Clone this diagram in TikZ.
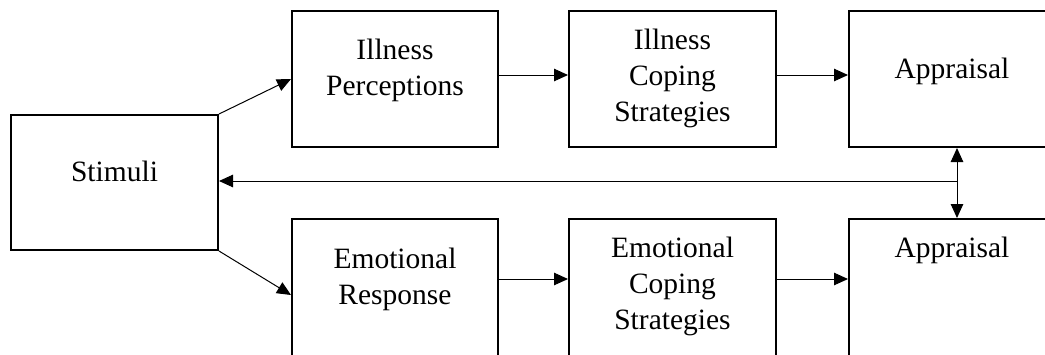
\documentclass[tikz,border=0pt]{standalone}
\usepackage{fontspec}
\setmainfont{Liberation Serif}
\usetikzlibrary{arrows.meta,calc}
\begin{document}
\begin{tikzpicture}[x=1pt,y=-1pt,
  box/.style={draw=black, line width=2pt, inner sep=0pt},
  lbl/.style={align=center, font=\fontsize{29.5}{36}\selectfont, inner sep=0pt},
  link/.style={line width=1pt, -{Triangle[length=14pt,width=12.5pt]}},
  dlink/.style={line width=1pt, {Triangle[length=14pt,width=12.5pt]}-{Triangle[length=14pt,width=12.5pt]}}]
\useasboundingbox (0,0) rectangle (1045,354);
\clip (0,0) rectangle (1045,354);

% boxes
\node[box, minimum width=207pt, minimum height=135pt] (stim) at (114.5,182.5) {};
\node[box, minimum width=206pt, minimum height=136pt] (ip)   at (395,79) {};
\node[box, minimum width=207pt, minimum height=136pt] (ics)  at (672.5,79) {};
\node[box, minimum width=216pt, minimum height=136pt] (a1)   at (957,79) {};
\node[box, minimum width=206pt, minimum height=138pt] (er)   at (395,288) {};
\node[box, minimum width=207pt, minimum height=138pt] (ecs)  at (672.5,288) {};
\node[box, minimum width=216pt, minimum height=138pt] (a2)   at (957,288) {};

% labels
\node[lbl] (stimT) at (114.5,171) {Stimuli};
\node[lbl] (ipT)   at (395,70.75) {Illness\\Perceptions};
\node[lbl] (icsT)  at (672.5,78.75) {Illness\\Coping\\Strategies};
\node[lbl] (a1T)   at (952,71.25) {Appraisal};
\node[lbl] (erT)   at (395,279.25) {Emotional\\Response};
\node[lbl] (ecsT)  at (672.5,286.25) {Emotional\\Coping\\Strategies};
\node[lbl] (a2T)   at (952,250.25) {Appraisal};

% forward links
\draw[link] (stim.north east) -- (ip.west);
\draw[link] (stim.south east) -- ([yshift=-7pt]er.west);
\draw[link] ([yshift=4pt]ip.east) -- ([yshift=4pt]ics.west);
\draw[link] ([yshift=4pt]ics.east) -- ([yshift=4pt]a1.west);
\draw[link] ([yshift=9pt]er.east) -- ([yshift=9pt]ecs.west);
\draw[link] ([yshift=9pt]ecs.east) -- ([yshift=9pt]a2.west);

% feedback between the appraisals and back to the stimuli
\draw[dlink] (a1.south) -- (a2.north);
\coordinate (fb) at ([yshift=1.5pt]a1.south |- stim.east);
\draw[link] (fb) -- (fb -| stim.east);
\end{tikzpicture}
\end{document}
